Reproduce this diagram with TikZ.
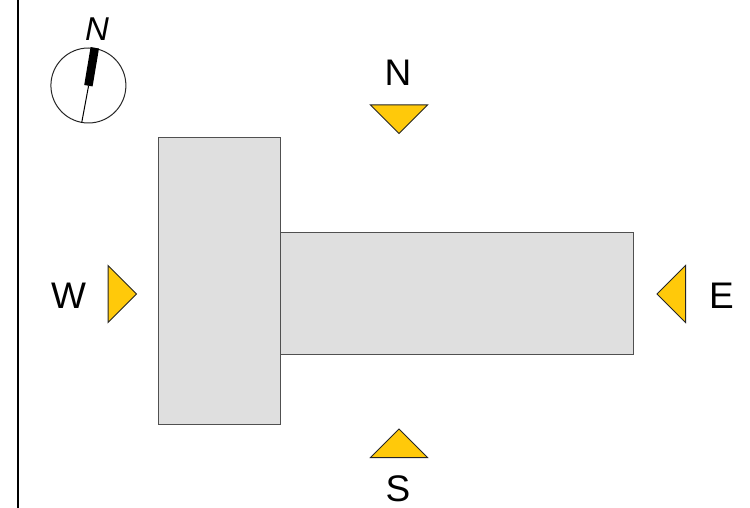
\documentclass[tikz,border=0pt]{standalone}
\usepackage{fontspec}
\setmainfont{Liberation Sans}
\definecolor{wing}{HTML}{DFDFDF}
\definecolor{wingline}{HTML}{505050}
\definecolor{marker}{HTML}{FFC90A}
\tikzset{
  wingbox/.style={draw=wingline,fill=wing,line width=1.2pt,line join=miter},
  viewmark/.style={draw=black!85,fill=marker,line width=1pt,line join=miter},
  viewlabel/.style={inner sep=0pt,font=\fontsize{37}{37}\selectfont},
  northlabel/.style={inner sep=0pt,font=\fontsize{33}{33}\selectfont\itshape}
}
\begin{document}
\begin{tikzpicture}[x=1pt,y=-1pt]
\useasboundingbox (0,0) rectangle (750,508);
\fill[white] (0,0) rectangle (750,508);
% margin rule
\draw[line width=2.2pt] (18,0) -- (18,508);
% compass
\draw[line width=1pt,draw=black!85] (88.4,85.5) circle (37.5);
\draw[line width=1pt] (88.6,85.7) -- (81.7,122.7);
\draw[line width=8.5pt] (94.8,47.8) -- (88.4,85.7);
\node[northlabel] (north) at (97,29.5) {N};
% building
\draw[wingbox] (280.6,232.5) rectangle (633.6,354.7);
\draw[wingbox] (158.5,137.5) rectangle (280.6,424.7);
% view markers
\draw[viewmark] (370.5,105) -- (427.5,105) -- (399,133.5) -- cycle;
\draw[viewmark] (370.5,457.5) -- (427.5,457.5) -- (399,429) -- cycle;
\draw[viewmark] (108,265.5) -- (136.5,294) -- (108,322.5) -- cycle;
\draw[viewmark] (685.5,265.5) -- (657,294) -- (685.5,322.5) -- cycle;
% labels
\node[viewlabel] (n) at (398,73) {N};
\node[viewlabel] (s) at (398,488.5) {S};
\node[viewlabel] (w) at (68.5,296) {W};
\node[viewlabel] (e) at (721.5,296) {E};
\end{tikzpicture}
\end{document}
